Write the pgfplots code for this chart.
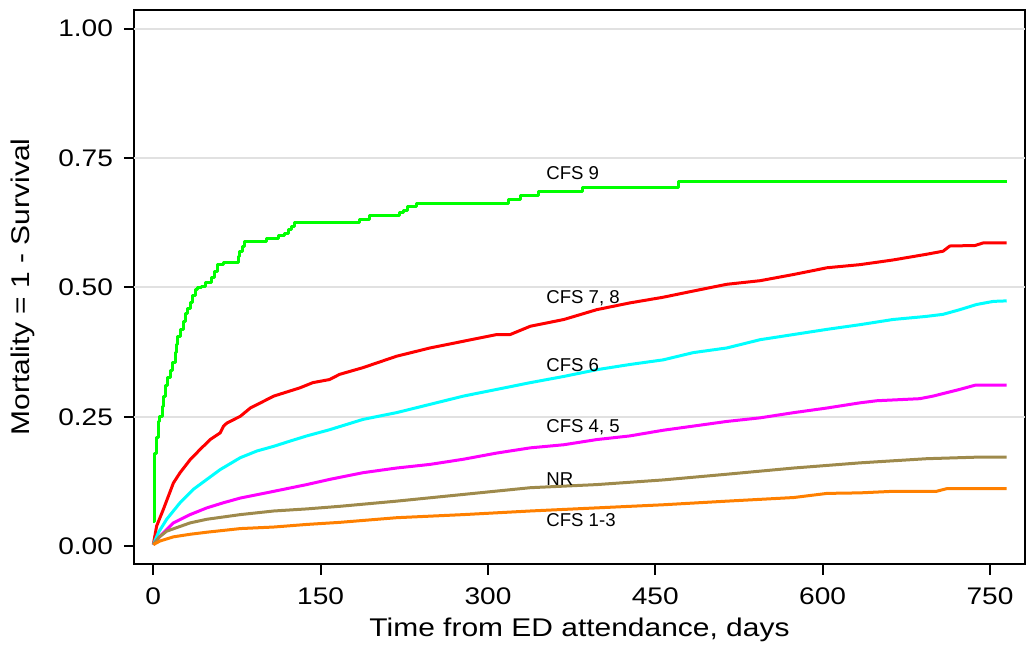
\documentclass[border=0pt]{standalone}
\usepackage{fontspec}
\setmainfont{Liberation Sans}
\newfontfamily\widefont[FakeStretch=1.17]{Liberation Sans}
\usepackage{pgfplots}
\pgfplotsset{compat=1.18}
\definecolor{cNine}{RGB}{0,255,0}
\definecolor{cSevenEight}{RGB}{255,0,0}
\definecolor{cSix}{RGB}{0,255,255}
\definecolor{cFourFive}{RGB}{255,0,255}
\definecolor{cNR}{RGB}{158,138,76}
\definecolor{cOneThree}{RGB}{255,128,0}
\definecolor{gridgray}{RGB}{225,225,225}
\begin{document}
\begin{tikzpicture}
\begin{axis}[
  scale only axis, width=445.5pt, height=277.5pt,
  xmin=-17.3, xmax=781.4, ymin=-0.0354, ymax=1.037,
  axis line style={line width=1pt, black},
  tick style={line width=1pt, black},
  tick align=outside, major tick length=5pt,
  xtick pos=bottom, ytick pos=left,
  xtick={0,150,300,450,600,750},
  xticklabels={0,150,300,450,600,750},
  ytick={0,0.25,0.5,0.75,1},
  yticklabels={0.00,0.25,0.50,0.75,1.00},
  extra y ticks={0.25,0.5,0.75,1}, extra y tick labels={},
  extra y tick style={grid=major, major tick length=0pt, tick style={draw=none}},
  grid style={line width=1pt, gridgray},
  ticklabel style={font=\widefont\fontsize{12}{14}\selectfont},
  yticklabel style={xshift=-2pt},
  xticklabel style={yshift=-3pt},
  /pgf/number format/assume math mode=true,
  xlabel={Time from ED attendance, days},
  ylabel={Mortality = 1 - Survival},
  label style={font=\widefont\fontsize{12.8}{15}\selectfont},
  every axis plot/.append style={line width=1.5pt, line join=round},
]
% CFS 9 (step function)
\addplot[cNine, const plot] coordinates {
(0,0.048) (1,0.10) (1.5,0.18) (3,0.21) (5,0.24) (6,0.25) (8,0.27) (9,0.29)
(11,0.31) (13,0.325) (15,0.34) (17,0.355) (19.5,0.374) (21,0.39) (22,0.405)
(24,0.419) (27,0.435) (29,0.45) (31,0.46) (33,0.47) (35,0.485) (37.4,0.496)
(40,0.50) (43.4,0.502) (47,0.51) (52,0.519) (55,0.53) (58,0.544) (62.8,0.549)
(76,0.56) (77.7,0.57) (80,0.58) (82.2,0.589) (101.6,0.594) (112,0.60)
(118,0.605) (121,0.612) (124,0.618) (127,0.626) (185,0.631) (194,0.638)
(221,0.644) (224,0.649) (228,0.657) (236,0.663) (318,0.67) (329,0.678)
(345,0.686) (385,0.694) (471,0.704) (765,0.704)
};
% CFS 7, 8
\addplot[cSevenEight] coordinates {
(0,0.003) (3,0.039) (9,0.071) (18,0.122) (24,0.142) (33,0.167) (42,0.187)
(51,0.206) (60,0.219) (63,0.232) (66,0.238) (78,0.251) (87,0.267) (108,0.29)
(131.5,0.306) (143,0.316) (158,0.322) (167,0.332) (188,0.345) (218,0.367)
(248,0.383) (278,0.396) (308,0.409) (320,0.409) (338,0.425) (368,0.438)
(397.5,0.457) (427,0.47) (457,0.481) (484,0.493) (514,0.506) (544,0.513)
(574,0.525) (604,0.538) (633.5,0.544) (663,0.553) (693,0.564) (708,0.57)
(714,0.58) (736.6,0.581) (744,0.586) (765,0.586)
};
% CFS 6
\addplot[cSix] coordinates {
(0,0.003) (4.5,0.026) (12,0.052) (24,0.084) (36,0.11) (48,0.129) (60,0.148)
(78,0.171) (93,0.184) (108,0.193) (122.5,0.203) (137.5,0.213) (158,0.225)
(188,0.245) (218,0.258) (248,0.274) (278,0.29) (308,0.303) (338,0.316)
(368,0.328) (397.5,0.341) (427,0.351) (457,0.36) (484,0.374) (514,0.383)
(544,0.399) (574,0.409) (604,0.419) (633.5,0.428) (663,0.438) (693,0.444)
(708,0.448) (723,0.457) (738,0.467) (753,0.473) (765,0.474)
};
% CFS 4, 5
\addplot[cFourFive] coordinates {
(0,0.003) (6,0.019) (18,0.045) (33,0.061) (48,0.074) (63,0.084) (78,0.093)
(108,0.106) (137.5,0.119) (158,0.129) (188,0.142) (218,0.151) (248,0.158)
(278,0.168) (308,0.18) (338,0.19) (368,0.196) (397.5,0.206) (427,0.213)
(457,0.224) (484,0.232) (514,0.241) (544,0.248) (574,0.258) (604,0.267)
(633.5,0.277) (648.5,0.281) (687,0.285) (699,0.29) (723,0.303) (736.6,0.311)
(765,0.311)
};
% NR
\addplot[cNR] coordinates {
(0,0.003) (5,0.017) (12,0.029) (33,0.045) (48,0.052) (78,0.061) (108,0.068)
(137.5,0.072) (167,0.077) (218,0.087) (278,0.1) (338,0.113) (397.5,0.119)
(457,0.128) (514,0.139) (574,0.151) (633.5,0.161) (693,0.169) (738,0.172)
(765,0.172)
};
% CFS 1-3
\addplot[cOneThree] coordinates {
(0,0.003) (6,0.01) (18,0.018) (33,0.023) (48,0.027) (78,0.034) (108,0.037)
(137.5,0.042) (167,0.046) (218,0.055) (278,0.061) (338,0.068) (397.5,0.074)
(457,0.080) (514,0.087) (574,0.094) (604,0.102) (633.5,0.103) (663,0.106)
(702,0.106) (711,0.111) (765,0.111)
};
\begin{scope}[every node/.style={anchor=west, inner sep=0pt, font=\fontsize{9.3}{11}\selectfont}]
\node at (axis cs:352,0.72) {CFS 9};
\node at (axis cs:352,0.48) {CFS 7, 8};
\node at (axis cs:352,0.349) {CFS 6};
\node at (axis cs:352,0.229) {CFS 4, 5};
\node at (axis cs:352,0.129) {NR};
\node at (axis cs:352,0.05) {CFS 1-3};
\end{scope}
\end{axis}
\path ([xshift=-67pt,yshift=-42.5pt]current axis.south west) rectangle ([xshift=0.5pt,yshift=4.75pt]current axis.north east);
\end{tikzpicture}
\end{document}
